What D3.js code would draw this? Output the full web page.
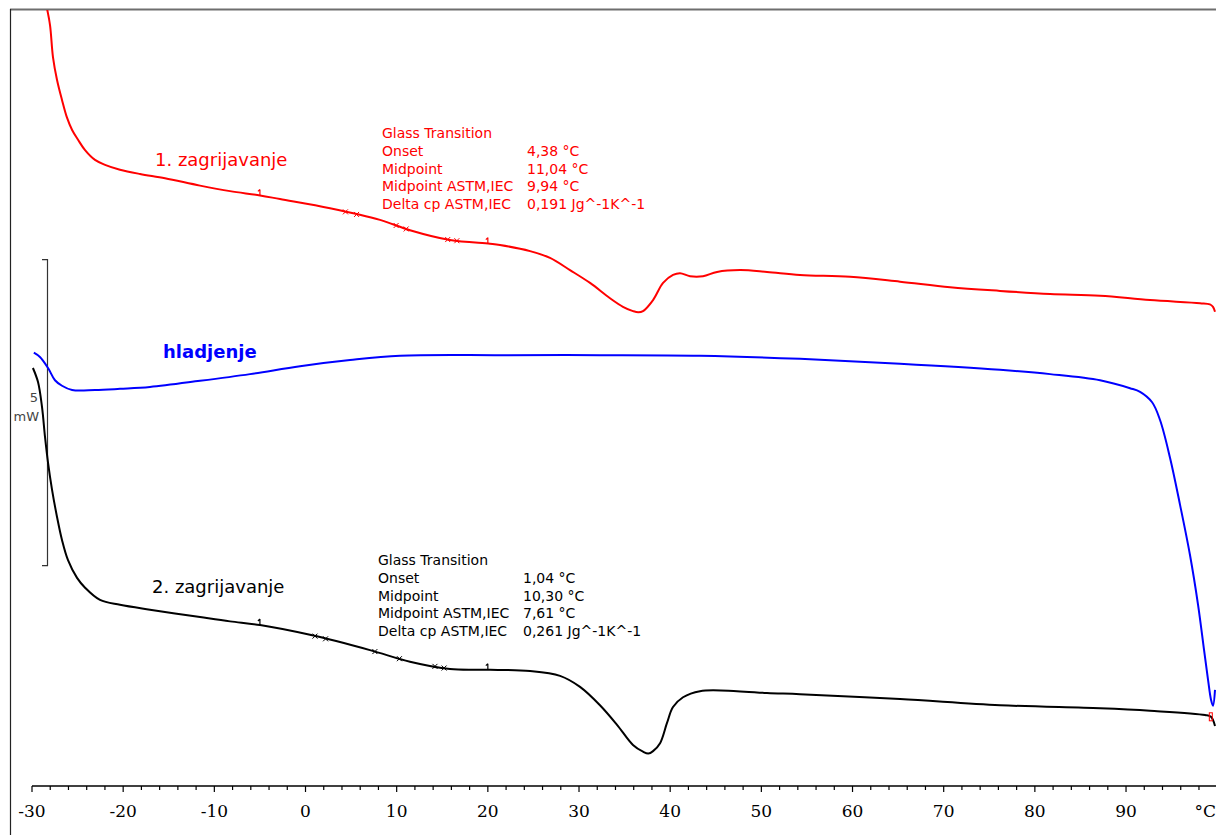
<!DOCTYPE html>
<html><head><meta charset="utf-8">
<script src="https://cdn.jsdelivr.net/npm/d3@7/dist/d3.min.js"></script>
<style>html,body{margin:0;padding:0;background:#fff;overflow:hidden}</style>
</head><body><svg id="c" width="1216" height="835"></svg>
<script>
// ---- data (temperature in °C, heat flow in mW, arbitrary offset) ----
const xTickLabels = [-30,-20,-10,0,10,20,30,40,50,60,70,80,90];
const minorTicks = d3.range(-30, 100, 2);
const scaleBarMW = [3.6, 8.6]; // 5 mW bar

const heat1Temp = [-28.35,-28.02,-27.7,-27.26,-26.71,-26.16,-25.6,-24.95,-24.18,-23.09,-21.99,-20.35,-18.15,-15.41,-11.57,-8.28,-4.99,-2.8,2.69,8.17,11.46,15.85,20.24,21.33,24.63,26.82,29.01,31.21,33.4,34.82,35.92,36.5,37.02,38.12,39.22,40.31,41.08,42.18,43.6,45.14,47.66,50.62,54.24,59.73,65.21,70.7,76.18,81.67,87.15,92.63,98.12,99.2,99.54,99.76];
const heat1Flow = [12.70,12.43,11.91,11.54,11.21,10.92,10.72,10.56,10.39,10.23,10.15,10.07,10.0,9.93,9.81,9.72,9.65,9.59,9.44,9.25,9.08,8.92,8.86,8.84,8.74,8.63,8.43,8.22,7.97,7.83,7.76,7.74,7.76,7.94,8.22,8.35,8.38,8.33,8.33,8.40,8.43,8.40,8.35,8.32,8.24,8.15,8.09,8.04,8.01,7.94,7.89,7.87,7.83,7.75];

const coolTemp = [-29.8,-29.13,-28.24,-27.48,-26.71,-25.6,-23.09,-20.35,-17.06,-11.57,-6.09,-0.6,4.88,10.37,21.33,32.3,43.27,54.24,65.21,76.18,81.67,87.15,90.44,91.54,92.86,93.73,94.83,95.93,97.02,97.9,98.56,99.0,99.32,99.54,99.76];
const coolFlow = [7.08,7.01,6.83,6.63,6.54,6.47,6.47,6.49,6.52,6.62,6.73,6.86,6.96,7.03,7.04,7.04,7.03,6.98,6.90,6.80,6.73,6.63,6.50,6.44,6.27,5.98,5.36,4.59,3.77,2.96,2.22,1.73,1.41,1.31,1.57];

const heat2Temp = [-29.9,-29.34,-28.9,-28.57,-28.24,-27.8,-27.26,-26.71,-26.05,-25.06,-24.18,-22.54,-20.35,-17.06,-11.57,-8.28,-4.99,0.49,7.07,11.46,15.85,20.24,24.63,27.92,30.11,32.3,34.17,35.92,37.02,37.6,38.12,38.89,39.65,40.31,41.41,43.27,47.33,50.62,54.24,65.21,76.18,87.15,92.63,98.67,99.32,99.76];
const heat2Flow = [6.83,6.60,6.19,5.70,5.28,4.84,4.40,4.02,3.69,3.40,3.24,3.04,2.96,2.88,2.76,2.69,2.63,2.47,2.22,2.03,1.91,1.90,1.88,1.80,1.62,1.32,1.00,0.67,0.56,0.53,0.57,0.70,1.03,1.29,1.45,1.55,1.55,1.52,1.50,1.42,1.32,1.27,1.23,1.16,1.13,0.98];

const heat1Ticks = [-5, 20];
const heat1Cross = [4.38, 5.6, 9.94, 11.04, 15.6, 16.6];
const heat2Ticks = [-5, 20];
const heat2Cross = [1.04, 2.2, 7.61, 10.3, 14.2, 15.2];

const annot1 = [["Glass Transition",""],["Onset","4,38 °C"],["Midpoint","11,04 °C"],["Midpoint ASTM,IEC","9,94 °C"],["Delta cp ASTM,IEC","0,191 Jg^-1K^-1"]];
const annot2 = [["Glass Transition",""],["Onset","1,04 °C"],["Midpoint","10,30 °C"],["Midpoint ASTM,IEC","7,61 °C"],["Delta cp ASTM,IEC","0,261 Jg^-1K^-1"]];

// ---- scales ----
const svg = d3.select("#c");
const x = d3.scaleLinear().domain([-30, 100]).range([32, 1217.2]);
const y = d3.scaleLinear().domain([0, 5]).range([786, 480]);

// frame
svg.append("line").attr("x1",10).attr("x2",1216).attr("y1",9.5).attr("y2",9.5).attr("stroke","#6e6e6e").attr("stroke-width",2);
svg.append("line").attr("x1",10.5).attr("x2",10.5).attr("y1",9).attr("y2",835).attr("stroke","#222").attr("stroke-width",1.2);

// x axis
const axG = svg.append("g").attr("transform","translate(0,786)");
axG.append("line").attr("x1",x(-30)).attr("x2",1216).attr("stroke","#000").attr("stroke-width",1.3);
axG.selectAll("line.minor").data(minorTicks).join("line").attr("class","minor")
  .attr("x1",d=>x(d)).attr("x2",d=>x(d)).attr("y1",0).attr("y2",d=>d%10===0?6:4)
  .attr("stroke","#000").attr("stroke-width",1.2);
axG.selectAll("text.lab").data(xTickLabels).join("text").attr("class","lab")
  .attr("x",d=>x(d)).attr("y",31).attr("text-anchor","middle")
  .attr("font-family","DejaVu Serif").attr("font-size",17).attr("fill","#000")
  .text(d=>String(d));
axG.append("text").attr("x",1216).attr("y",31).attr("text-anchor","end")
  .attr("font-family","DejaVu Serif").attr("font-size",17).text("°C");

// scale bar
const sb = svg.append("g").attr("stroke","#333").attr("stroke-width",1.2).attr("fill","none");
sb.append("path").attr("d",`M42,${y(scaleBarMW[1])}H47.5V${y(scaleBarMW[0])}H42`);
svg.append("text").attr("x",38).attr("y",402).attr("text-anchor","end").attr("font-family","DejaVu Sans").attr("font-size",13).attr("fill","#444").text("5");
svg.append("text").attr("x",39).attr("y",421).attr("text-anchor","end").attr("font-family","DejaVu Sans").attr("font-size",13).attr("fill","#444").text("mW");

// curves
const line = d3.line().x(d=>x(d[0])).y(d=>y(d[1])).curve(d3.curveCatmullRom.alpha(0.5));
function zip(t,v){return t.map((d,i)=>[d,v[i]]);}
function at(t,v,q){const i=d3.bisectLeft(t,q);const a=Math.max(1,Math.min(i,t.length-1));const f=(q-t[a-1])/(t[a]-t[a-1]);return v[a-1]+f*(v[a]-v[a-1]);}
const series = [
  {t:heat1Temp,v:heat1Flow,c:"#ff0000",ticks:heat1Ticks,cross:heat1Cross},
  {t:coolTemp,v:coolFlow,c:"#0000ff",ticks:[],cross:[]},
  {t:heat2Temp,v:heat2Flow,c:"#000000",ticks:heat2Ticks,cross:heat2Cross}
];
svg.append("clipPath").attr("id","clip").append("rect").attr("x",11).attr("y",10).attr("width",1205).attr("height",776);
const cg = svg.append("g").attr("clip-path","url(#clip)");
series.forEach(s=>{
  cg.append("path").datum(zip(s.t,s.v)).attr("d",line).attr("fill","none").attr("stroke",s.c).attr("stroke-width",2).attr("stroke-linejoin","round");
  s.ticks.forEach(q=>{
    const px=x(q), py=y(at(s.t,s.v,q));
    cg.append("path").attr("d",`M${px},${py}V${py-6}M${px-2},${py-4}L${px},${py-6}`).attr("stroke",s.c).attr("stroke-width",1.2).attr("fill","none");
  });
  s.cross.forEach(q=>{
    const px=x(q), py=y(at(s.t,s.v,q));
    cg.append("path").attr("d",`M${px-2.5},${py-2.5}L${px+2.5},${py+2.5}M${px-2.5},${py+2.5}L${px+2.5},${py-2.5}`).attr("stroke",s.c).attr("stroke-width",1).attr("fill","none");
  });
});
// small red marker at end of 2nd heating
{
  const q=99.3, px=x(q), py=y(at(heat2Temp,heat2Flow,q));
  cg.append("rect").attr("x",px-1.5).attr("y",py-4).attr("width",3).attr("height",8).attr("fill","none").attr("stroke","#ff0000").attr("stroke-width",1);
}

// curve labels
svg.append("text").attr("x",155).attr("y",166).attr("font-family","DejaVu Sans").attr("font-size",18).attr("fill","#ff0000").text("1. zagrijavanje");
svg.append("text").attr("x",163).attr("y",358).attr("font-family","DejaVu Sans").attr("font-size",18).attr("font-weight","bold").attr("fill","#0000ff").text("hladjenje");
svg.append("text").attr("x",152).attr("y",593).attr("font-family","DejaVu Sans").attr("font-size",18).attr("fill","#000").text("2. zagrijavanje");

// annotation blocks
function block(rows,x0,y0,col){
  const g=svg.append("g").attr("font-family","DejaVu Sans").attr("font-size",14).attr("fill",col);
  rows.forEach((r,i)=>{
    g.append("text").attr("x",x0).attr("y",y0+i*17.8).text(r[0]);
    if(r[1]) g.append("text").attr("x",x0+145).attr("y",y0+i*17.8).text(r[1]);
  });
}
block(annot1,382,138,"#ff0000");
block(annot2,378,565,"#000");
</script></body></html>
